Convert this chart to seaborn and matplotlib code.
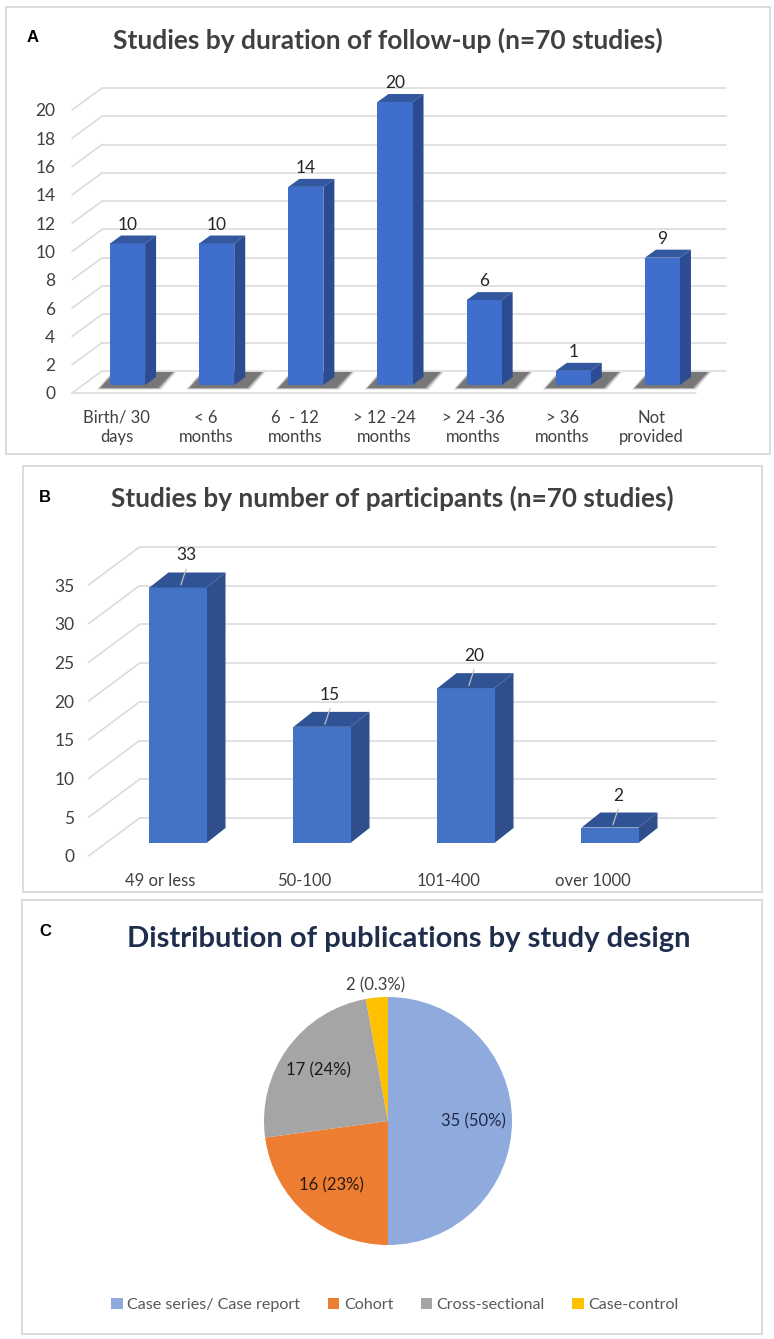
import numpy as np
import pandas as pd
import matplotlib
matplotlib.use('Agg')
import matplotlib.pyplot as plt
from matplotlib.patches import Rectangle, Polygon
import seaborn as sns

# ---- data ----
followup_labels = ['Birth/ 30\ndays', '< 6\nmonths', '6  - 12\nmonths', '> 12 -24\nmonths',
                   '> 24 -36\nmonths', '> 36\nmonths', 'Not\nprovided']
followup_counts = [10, 10, 14, 20, 6, 1, 9]
followup_ticks = list(range(0, 21, 2))

size_labels = ['49 or less', '50-100', '101-400', 'over 1000']
size_counts = [33, 15, 20, 2]
size_ticks = list(range(0, 36, 5))

design_labels = ['Case series/ Case report', 'Cohort', 'Cross-sectional', 'Case-control']
design_counts = [35, 16, 17, 2]
design_text = ['35 (50%)', '16 (23%)', '17 (24%)', '2 (0.3%)']
design_colors = ['#8FAADC', '#ED7D31', '#A5A5A5', '#FFC000']

W, H = 774, 1339
sns.set_theme(style='white')
plt.rcParams['font.family'] = ['Lato', 'DejaVu Sans']

fig = plt.figure(figsize=(W / 100, H / 100), dpi=100)
fig.patch.set_facecolor('white')


def rect(x0, y0, x1, y1):
    # pixel box (top-left origin) -> figure fraction
    return [x0 / W, 1 - y1 / H, (x1 - x0) / W, (y1 - y0) / H]


def panel_box(x0, y0, x1, y1):
    fig.patches.append(Rectangle((x0 / W, 1 - y1 / H), (x1 - x0) / W, (y1 - y0) / H,
                                 transform=fig.transFigure, fill=False,
                                 edgecolor='#D9D9D9', lw=1.3))


def bar3d(box, labels, counts, ticks, grid_d, bar_off, bar_d, bar_w,
          face, side, top, floor_line, shadow, lab_off, leader, fs):
    ax = fig.add_axes(rect(*box))
    df = pd.DataFrame({'cat': labels, 'n': counts})
    sns.barplot(data=df, x='cat', y='n', ax=ax, color=face, saturation=1,
                width=bar_w, edgecolor='none', zorder=4)
    n = len(labels)
    ax.set_xlim(-0.5, n - 0.5)
    ax.set_ylim(ticks[0], ticks[-1])
    ax.set_xlabel('')
    ax.set_ylabel('')
    ax.patch.set_alpha(0)
    for s in ax.spines.values():
        s.set_visible(False)

    # data units per pixel
    sx = n / (box[2] - box[0])
    sy = (ticks[-1] - ticks[0]) / (box[3] - box[1])
    gdx, gdy = grid_d[0] * sx, grid_d[1] * sy

    gc = '#D9D9D9'
    for v in ticks:
        ax.plot([-0.5, -0.5 + gdx], [v, v + gdy], color=gc, lw=1.1, clip_on=False, zorder=1)
        ax.plot([-0.5 + gdx, n - 0.5 + gdx], [v + gdy] * 2, color=gc, lw=1.1,
                clip_on=False, zorder=1)
    if floor_line:
        ax.plot([-0.5, n - 0.5], [0, 0], color=gc, lw=1.1, clip_on=False, zorder=1)

    ox, oy = bar_off[0] * sx, bar_off[1] * sy
    bdx, bdy = bar_d[0] * sx, bar_d[1] * sy
    for p, v in zip(list(ax.patches), counts):
        x0 = p.get_x() + ox
        w = p.get_width()
        h = p.get_height()
        p.set_x(x0)
        p.set_y(oy)
        p.set_clip_on(False)
        x1 = x0 + w
        y0, y1 = oy, oy + h
        if shadow:
            for grow, a in [(3, 0.18), (1.5, 0.3), (0, 0.45)]:
                ax.add_patch(Polygon([(x0 - (10 + grow) * sx, y0 - (3 + grow * 0.5) * sy),
                                      (x1 + (13 + grow) * sx, y0 - (3 + grow * 0.5) * sy),
                                      (x1 + (28 + grow) * sx, y0 + 13 * sy),
                                      (x0 + (5 - grow) * sx, y0 + 13 * sy)],
                                     closed=True, facecolor='#3A3A3A', alpha=a,
                                     edgecolor='none', zorder=2, clip_on=False))
        ax.add_patch(Polygon([(x1, y0), (x1, y1), (x1 + bdx, y1 + bdy), (x1 + bdx, y0 + bdy)],
                             closed=True, facecolor=side, edgecolor='none', zorder=3,
                             clip_on=False))
        ax.add_patch(Polygon([(x0, y1), (x1, y1), (x1 + bdx, y1 + bdy), (x0 + bdx, y1 + bdy)],
                             closed=True, facecolor=top, edgecolor='none', zorder=5,
                             clip_on=False))
        cx = x0 + w / 2
        ax.annotate(str(v), (cx, y1), xytext=(lab_off[0] * 0.72, lab_off[1] * 0.72),
                    textcoords='offset points', ha='center', va='center',
                    fontsize=fs, color='#262626', zorder=6, annotation_clip=False)
        if leader:
            ax.annotate('', (cx + 2 * sx, y1), xytext=(cx + 9 * sx, y1 + 21 * sy),
                        arrowprops=dict(arrowstyle='-', color='#BFBFBF', lw=0.9),
                        annotation_clip=False, zorder=6)

    ax.set_yticks(ticks)
    ax.set_yticklabels([str(t) for t in ticks])
    return ax


# ---------------- panel A ----------------
panel_box(6, 7, 770, 454)
axA = bar3d((72, 110, 696, 393), followup_labels, followup_counts, followup_ticks,
            grid_d=(30, 22), bar_off=(11, 8), bar_d=(11, 8), bar_w=0.393,
            face='#3F6ECD', side='#2B4C92', top='#34589F', floor_line=True,
            shadow=True, lab_off=(0, 19), leader=False, fs=12.5)
axA.tick_params(axis='y', length=0, pad=12, labelsize=12.5, labelcolor='#404040')
axA.tick_params(axis='x', length=0, pad=12, labelsize=12, labelcolor='#404040')
for t in axA.get_xticklabels():
    t.set_linespacing(1.25)
fig.text(33 / W, 1 - 38 / H, 'A', fontsize=12, fontweight='bold', color='black',
         family='Liberation Sans', ha='center', va='center')
fig.text(388 / W, 1 - 40 / H, 'Studies by duration of follow-up (n=70 studies)',
         fontsize=19, fontweight='bold', color='#404040', ha='center', va='center')

# ---------------- panel B ----------------
panel_box(23, 466, 762, 892)
axB = bar3d((88.5, 585, 664.5, 856), size_labels, size_counts, size_ticks,
            grid_d=(51, 38), bar_off=(17.5, 13), bar_d=(19, 15), bar_w=0.396,
            face='#4472C4', side='#2F4F8C', top='#2F5395', floor_line=False,
            shadow=False, lab_off=(8, 32), leader=True, fs=12.5)
axB.tick_params(axis='y', length=0, pad=10, labelsize=12.5, labelcolor='#404040')
axB.tick_params(axis='x', length=0, pad=12, labelsize=12, labelcolor='#404040')
fig.text(45 / W, 1 - 497 / H, 'B', fontsize=12, fontweight='bold', color='black',
         family='Liberation Sans', ha='center', va='center')
fig.text(392 / W, 1 - 498 / H, 'Studies by number of participants (n=70 studies)',
         fontsize=18.8, fontweight='bold', color='#404040', ha='center', va='center')

# ---------------- panel C ----------------
panel_box(22, 900, 762, 1334)
fig.text(45 / W, 1 - 932 / H, 'C', fontsize=12, fontweight='bold', color='black',
         family='Liberation Sans', ha='center', va='center')
fig.text(409 / W, 1 - 939 / H, 'Distribution of publications by study design',
         fontsize=21, fontweight='bold', color='#1F2E4D', ha='center', va='center')

axC = fig.add_axes(rect(233, 966, 543, 1276))
wedges, _ = axC.pie(design_counts, colors=design_colors, startangle=90,
                    counterclock=False, wedgeprops=dict(edgecolor='none'))
label_colors = ['#1F2A44', '#2B1A10', '#1A1A1A', '#404040']
for wdg, txt, col in zip(wedges, design_text, label_colors):
    ang = np.deg2rad((wdg.theta1 + wdg.theta2) / 2)
    frac = (wdg.theta2 - wdg.theta1) / 360
    r = 1.1 if frac < 0.05 else 0.69
    axC.text(r * np.cos(ang), r * np.sin(ang), txt, ha='center', va='center',
             fontsize=12, color=col)

handles = [Rectangle((0, 0), 1, 1, facecolor=c, edgecolor='none') for c in design_colors]
fig.legend(handles, design_labels, loc='center', bbox_to_anchor=(395 / W, 1 - 1305 / H),
           ncol=4, frameon=False, fontsize=11.6, labelcolor='#595959',
           handlelength=0.7, handleheight=0.7, handletextpad=0.3, columnspacing=1.7)

fig.savefig('out.png', dpi=100, facecolor='white')
